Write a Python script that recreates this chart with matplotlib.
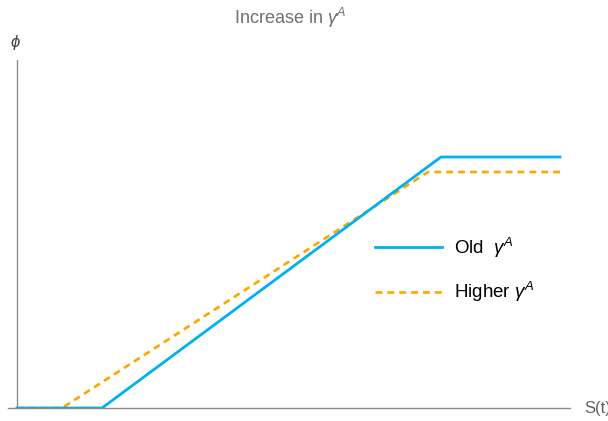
import matplotlib.pyplot as plt

plt.rcParams['font.family'] = ['Liberation Sans', 'DejaVu Sans']
plt.rcParams['mathtext.fontset'] = 'custom'
plt.rcParams['mathtext.it'] = 'Liberation Sans:italic'
plt.rcParams['mathtext.rm'] = 'Liberation Sans'

# piecewise-linear phi(S) schedules
s_old = [0, 0.85, 4.24, 5.43]
phi_old = [0, 0, 2.51, 2.51]
s_high = [0, 0.45, 4.11, 5.43]
phi_high = [0, 0, 2.36, 2.36]

blue = '#00B0F0'
orange = '#FFA500'
grey = '#8C8C8C'

fig = plt.figure(figsize=(6.08, 4.21), dpi=100)
ax = fig.add_axes([8 / 608, 13 / 421, 562 / 608, 348 / 421])
ax.set_xlim(-0.09, 5.53)
ax.set_ylim(0, 3.48)

ax.plot(s_old, phi_old, color=blue, lw=2.0, label=r'Old  $\gamma^A$', zorder=3)
ax.plot(s_high, phi_high, color=orange, lw=1.9, dashes=(2.6, 1.9),
        label=r'Higher $\gamma^A$', zorder=2)

for side in ['top', 'right', 'left']:
    ax.spines[side].set_visible(False)
ax.spines['bottom'].set_color(grey)
ax.spines['bottom'].set_linewidth(1.0)
ax.axvline(0, color=grey, lw=1.0, zorder=1)
ax.set_xticks([])
ax.set_yticks([])

fig.text(290 / 608, 1 - 18 / 421, r'Increase in $\gamma^A$', ha='center', va='center',
         fontsize=13, color='#707070')
fig.text(15 / 608, 1 - 42 / 421, r'$\phi$', ha='center', va='center',
         fontsize=12, color='#404040')
fig.text(584 / 608, 13 / 421, 'S(t)', ha='left', va='center', fontsize=12, color='#606060')

ax.legend(loc='center left', bbox_to_anchor=(358 / 608, 1 - 270 / 421),
          bbox_transform=fig.transFigure, frameon=False, fontsize=13.5,
          handlelength=3.6, labelspacing=1.1, handletextpad=0.6)

fig.savefig('out.png', dpi=100)
